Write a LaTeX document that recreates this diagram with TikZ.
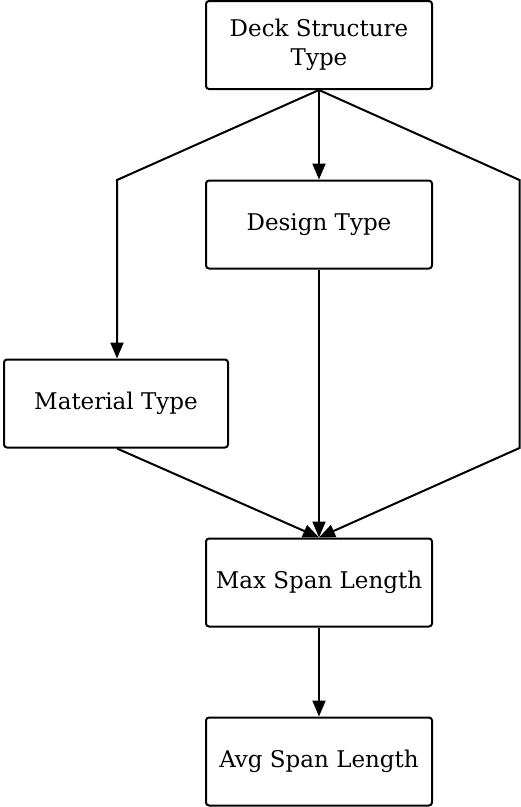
\documentclass[tikz,border=0pt]{standalone}
\usepackage{fontspec}
\setmainfont{DejaVu Serif}
\usetikzlibrary{arrows.meta}
\begin{document}
\begin{tikzpicture}[x=1pt,y=-1pt,
  box/.style={draw=black, line width=2pt, rounded corners=3pt, fill=white,
    minimum height=88pt, align=center, inner sep=0pt, font=\fontsize{23}{29}\selectfont},
  conn/.style={draw=black, line width=2pt, -{Triangle[length=16pt,width=13pt]}}]
\useasboundingbox (0,0) rectangle (521,807);
\node[box, minimum width=226pt] (deck) at (319,45) {Deck Structure\\Type};
\node[box, minimum width=226pt] (design) at (319,224.5) {Design Type};
\node[box, minimum width=224pt] (mat) at (116,403.5) {Material Type};
\node[box, minimum width=226pt] (max) at (319,582.5) {Max Span Length};
\node[box, minimum width=226pt] (avg) at (319,761.5) {Avg Span Length};
\coordinate (l1) at (117,180);
\coordinate (r1) at (519.5,180);
\coordinate (r2) at (519.5,448);
\draw[conn] (deck.south) -- (l1) -- (mat.north -| l1);
\draw[conn] (deck.south) -- (design.north);
\draw[conn] (deck.south) -- (r1) -- (r2) -- (max.north);
\draw[conn] (mat.south -| l1) -- (max.north);
\draw[conn] (design.south) -- (max.north);
\draw[conn] (max.south) -- (avg.north);
\end{tikzpicture}
\end{document}
